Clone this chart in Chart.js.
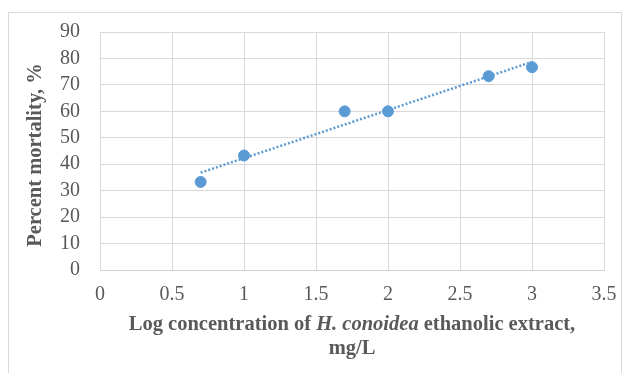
<!DOCTYPE html>
<html>
<head>
    <title>Percent mortality</title>
    <script src="https://cdn.jsdelivr.net/npm/chart.js@4/dist/chart.umd.min.js"></script>
    <style>
        body { margin: 0; background: #fff; }
        .frame {
            position: absolute; left: 8px; top: 12px;
            width: 612px; height: 362px;
            border: 1px solid #d9d9d9;
        }
        canvas { position: absolute; left: 0; top: 0; }
    </style>
</head>
<body>
    <div class="frame"></div>
    <canvas id="mortChart" width="625" height="373"></canvas>

    <script>
        // log concentration vs percent mortality
        const logConc = [0.699, 1, 1.699, 2, 2.699, 3];
        const mortality = [33.3, 43.3, 60, 60, 73.3, 76.7];
        // linear trendline end points
        const trendX = [0.699, 3];
        const trendY = [36.8, 78.7];

        const grey = '#595959';
        const serif = "'Liberation Serif', 'Times New Roman', serif";
        const titleSize = 20.5;

        // axis titles, drawn by hand so the species name can be italic
        const titlesPlugin = {
            id: 'titles',
            afterDraw(chart) {
                const c = chart.ctx;
                const area = chart.chartArea;
                const mid = (area.left + area.right) / 2;
                c.save();
                c.fillStyle = grey;
                c.textBaseline = 'middle';

                // x title, line 1 with italic part
                const parts = [
                    ['bold ' + titleSize + 'px ' + serif, 'Log concentration of '],
                    ['bold italic ' + titleSize + 'px ' + serif, 'H. conoidea'],
                    ['bold ' + titleSize + 'px ' + serif, ' ethanolic extract,']
                ];
                let total = 0;
                parts.forEach(p => { c.font = p[0]; total += c.measureText(p[1]).width; });
                let x = mid - total / 2;
                c.textAlign = 'left';
                parts.forEach(p => {
                    c.font = p[0];
                    c.fillText(p[1], x, 325);
                    x += c.measureText(p[1]).width;
                });
                c.font = 'bold ' + titleSize + 'px ' + serif;
                c.textAlign = 'center';
                c.fillText('mg/L', mid, 349);

                // y title
                c.translate(36, (area.top + area.bottom) / 2 + 4);
                c.rotate(-Math.PI / 2);
                c.fillText('Percent mortality, %', 0, 0);
                c.restore();
            }
        };

        const ctx = document.getElementById('mortChart').getContext('2d');
        const chart = new Chart(ctx, {
            type: 'scatter',
            data: {
                datasets: [{
                    label: 'Mortality',
                    data: logConc.map((v, i) => ({ x: v, y: mortality[i] })),
                    backgroundColor: '#5b9bd5',
                    borderColor: '#5b9bd5',
                    pointRadius: 5.5,
                    order: 1
                }, {
                    label: 'Linear trend',
                    type: 'line',
                    data: trendX.map((v, i) => ({ x: v, y: trendY[i] })),
                    borderColor: '#5b9bd5',
                    borderWidth: 2.5,
                    borderDash: [2, 2],
                    pointRadius: 0,
                    fill: false,
                    order: 2
                }]
            },
            options: {
                responsive: false,
                animation: false,
                layout: { padding: { top: 32, right: 21, left: 0, bottom: 0 } },
                plugins: {
                    legend: { display: false },
                    tooltip: { enabled: false }
                },
                scales: {
                    x: {
                        type: 'linear',
                        min: 0,
                        max: 3.5,
                        ticks: {
                            stepSize: 0.5,
                            autoSkip: false,
                            maxRotation: 0,
                            color: grey,
                            padding: 13,
                            font: { family: serif, size: 20 },
                            callback: v => String(v)
                        },
                        grid: { color: '#d9d9d9', drawTicks: false },
                        border: { color: '#d0d0d0' },
                        afterFit(s) {
                            s.height = 103;
                            s.paddingLeft = 0;
                            s.paddingRight = 0;
                        }
                    },
                    y: {
                        min: 0,
                        max: 90,
                        ticks: {
                            stepSize: 10,
                            autoSkip: false,
                            color: grey,
                            padding: 20,
                            font: { family: serif, size: 20 }
                        },
                        grid: { color: '#d9d9d9', drawTicks: false },
                        border: { color: '#d9d9d9' },
                        afterFit(s) {
                            s.width = 100;
                            s.paddingTop = 0;
                            s.paddingBottom = 0;
                        }
                    }
                }
            },
            plugins: [titlesPlugin]
        });
    </script>
</body>
</html>
